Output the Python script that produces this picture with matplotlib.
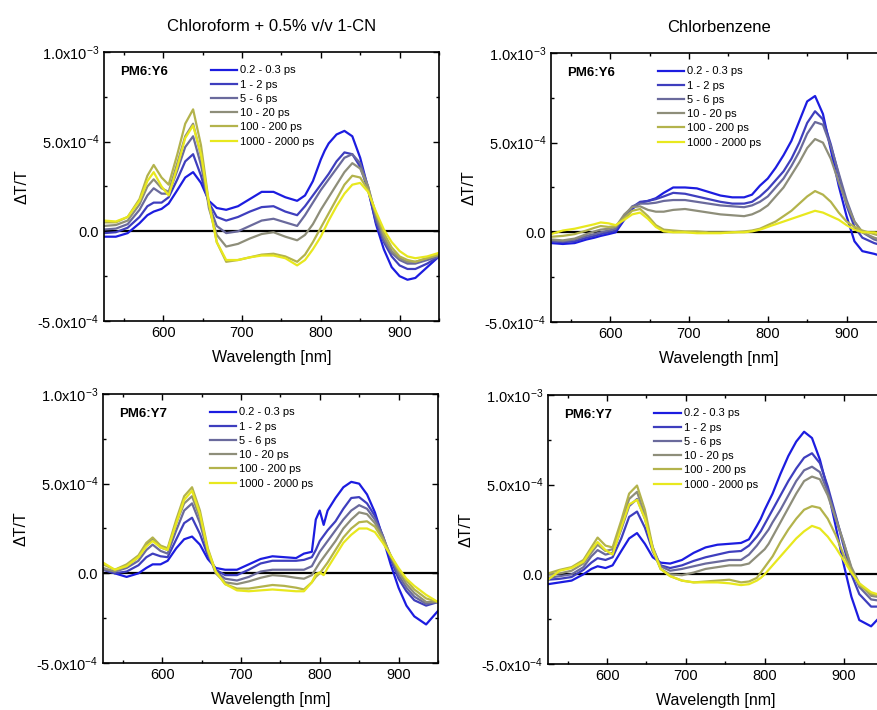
import matplotlib
matplotlib.use('Agg')
import matplotlib.pyplot as plt
import numpy as np
from matplotlib.ticker import MultipleLocator

plt.rcParams['font.family'] = ['Liberation Sans', 'DejaVu Sans']
plt.rcParams['mathtext.fontset'] = 'custom'
plt.rcParams['mathtext.rm'] = 'Liberation Sans'
plt.rcParams['mathtext.it'] = 'Liberation Sans:italic'

# wavelength grid [nm], values in units of 1e-4 (dT/T)
wl = [525, 540, 555, 570, 580, 588, 598, 607, 618, 628, 638, 648, 658, 668, 680, 695, 710, 725, 740, 755,
      770, 780, 790, 795, 800, 805, 810, 820, 830, 840, 850, 860, 870, 880, 890, 900, 910, 920, 935, 950]

labels = ['0.2 - 0.3 ps', '1 - 2 ps', '5 - 6 ps', '10 - 20 ps', '100 - 200 ps', '1000 - 2000 ps']
colors = ['#1c1ce0', '#3e3ebe', '#6a6a9c', '#8e8e7a', '#b3b34c', '#e8e81e']

# Chloroform + 1-CN, PM6:Y6
cf_y6 = [
    [-0.3, -0.3, -0.1, 0.45, 0.9, 1.1, 1.25, 1.55, 2.3, 3.0, 3.3, 2.7, 1.7, 1.3, 1.2, 1.4, 1.8, 2.2, 2.2, 1.9,
     1.7, 2.0, 2.8, 3.4, 4.0, 4.5, 4.9, 5.4, 5.6, 5.3, 4.1, 2.4, 0.4, -1.0, -2.0, -2.5, -2.7, -2.6, -2.0, -1.4],
    [-0.1, -0.05, 0.2, 0.8, 1.4, 1.6, 1.6, 1.9, 2.9, 3.9, 4.3, 3.1, 1.6, 0.8, 0.6, 0.8, 1.1, 1.35, 1.4, 1.1,
     0.9, 1.4, 2.0, 2.3, 2.6, 2.9, 3.2, 3.9, 4.4, 4.3, 3.6, 2.3, 0.5, -0.6, -1.4, -1.9, -2.1, -2.1, -1.8, -1.4],
    [0.1, 0.15, 0.4, 1.2, 2.0, 2.4, 2.1, 2.1, 3.4, 4.7, 5.3, 3.7, 1.5, 0.3, -0.1, 0.0, 0.3, 0.6, 0.7, 0.5,
     0.3, 0.9, 1.6, 1.95, 2.3, 2.6, 2.9, 3.5, 4.1, 4.3, 3.8, 2.5, 0.7, -0.5, -1.2, -1.6, -1.8, -1.8, -1.6, -1.4],
    [0.3, 0.35, 0.6, 1.5, 2.5, 2.9, 2.4, 2.2, 3.8, 5.3, 6.0, 4.2, 1.3, -0.2, -0.85, -0.7, -0.4, -0.15, -0.05, -0.3,
     -0.5, -0.2, 0.4, 0.8, 1.2, 1.55, 1.9, 2.6, 3.3, 3.8, 3.5, 2.5, 0.9, -0.3, -1.1, -1.5, -1.7, -1.7, -1.5, -1.3],
    [0.5, 0.5, 0.8, 1.8, 3.1, 3.7, 3.0, 2.6, 4.3, 6.0, 6.8, 4.8, 1.6, -0.6, -1.7, -1.6, -1.45, -1.3, -1.25, -1.4,
     -1.7, -1.3, -0.6, -0.2, 0.2, 0.6, 1.0, 1.8, 2.6, 3.1, 3.0, 2.3, 1.0, -0.1, -0.9, -1.4, -1.6, -1.7, -1.5, -1.3],
    [0.6, 0.55, 0.8, 1.7, 2.8, 3.3, 2.5, 2.0, 3.6, 5.2, 5.9, 4.3, 1.6, -0.6, -1.6, -1.6, -1.45, -1.35, -1.35, -1.5,
     -1.9, -1.6, -1.0, -0.65, -0.3, 0.15, 0.6, 1.4, 2.1, 2.6, 2.7, 2.2, 1.1, 0.1, -0.6, -1.1, -1.4, -1.5, -1.4, -1.2],
]

# Chlorobenzene, PM6:Y6
cb_y6 = [
    [-0.6, -0.65, -0.6, -0.4, -0.3, -0.2, -0.1, 0.0, 0.7, 1.3, 1.65, 1.75, 1.9, 2.2, 2.5, 2.5, 2.45, 2.25, 2.05, 1.95,
     1.95, 2.1, 2.6, 2.8, 3.0, 3.3, 3.6, 4.3, 5.1, 6.2, 7.3, 7.6, 6.6, 4.6, 2.6, 0.9, -0.5, -1.05, -1.2, -1.4],
    [-0.5, -0.55, -0.5, -0.3, -0.2, -0.1, 0.0, 0.1, 0.8, 1.4, 1.7, 1.75, 1.85, 2.0, 2.2, 2.15, 2.0, 1.85, 1.7, 1.6,
     1.6, 1.7, 2.0, 2.2, 2.4, 2.65, 2.9, 3.4, 4.1, 5.0, 6.1, 6.75, 6.3, 4.9, 3.2, 1.5, 0.3, -0.3, -0.6, -0.8],
    [-0.45, -0.5, -0.4, -0.2, -0.1, 0.0, 0.1, 0.2, 0.9, 1.45, 1.6, 1.6, 1.65, 1.75, 1.8, 1.8, 1.7, 1.6, 1.5, 1.45,
     1.4, 1.5, 1.7, 1.85, 2.0, 2.25, 2.5, 3.0, 3.7, 4.5, 5.5, 6.15, 6.0, 4.8, 3.3, 1.8, 0.6, 0.0, -0.4, -0.6],
    [-0.4, -0.45, -0.35, -0.1, 0.05, 0.15, 0.2, 0.3, 1.0, 1.4, 1.45, 1.25, 1.15, 1.15, 1.25, 1.3, 1.2, 1.1, 1.0, 0.95,
     0.9, 1.0, 1.2, 1.35, 1.5, 1.75, 2.0, 2.5, 3.2, 3.9, 4.7, 5.2, 5.0, 4.1, 2.8, 1.6, 0.6, 0.0, -0.3, -0.5],
    [-0.25, -0.2, -0.1, 0.1, 0.25, 0.35, 0.3, 0.35, 0.8, 1.2, 1.3, 0.9, 0.4, 0.15, 0.1, 0.05, 0.05, 0.0, 0.0, 0.0,
     0.05, 0.1, 0.2, 0.3, 0.4, 0.5, 0.6, 0.9, 1.2, 1.6, 2.0, 2.3, 2.1, 1.7, 1.1, 0.6, 0.3, 0.1, -0.1, -0.3],
    [-0.1, 0.1, 0.2, 0.35, 0.45, 0.55, 0.5, 0.4, 0.7, 1.0, 1.1, 0.75, 0.3, 0.05, 0.0, 0.0, -0.05, -0.05, -0.05, 0.0,
     0.0, 0.05, 0.15, 0.22, 0.3, 0.38, 0.45, 0.6, 0.75, 0.9, 1.05, 1.2, 1.1, 0.9, 0.7, 0.4, 0.15, 0.0, 0.0, -0.1],
]

# Chloroform + 1-CN, PM6:Y7
cf_y7 = [
    [0.25, 0.0, -0.2, 0.0, 0.3, 0.5, 0.5, 0.7, 1.4, 1.9, 2.05, 1.6, 0.8, 0.3, 0.2, 0.2, 0.5, 0.8, 0.95, 0.9,
     0.85, 1.1, 1.2, 3.0, 3.5, 2.7, 3.5, 4.2, 4.8, 5.1, 5.0, 4.4, 3.4, 2.0, 0.5, -0.8, -1.8, -2.4, -2.85, -2.1],
    [0.2, 0.0, 0.1, 0.45, 0.9, 1.1, 0.95, 0.9, 1.9, 2.8, 3.1, 2.2, 1.0, 0.2, -0.1, -0.1, 0.2, 0.55, 0.7, 0.7,
     0.7, 0.75, 0.9, 1.3, 1.8, 2.1, 2.4, 2.9, 3.6, 4.2, 4.25, 3.9, 3.2, 2.1, 0.8, -0.3, -1.0, -1.5, -1.8, -1.6],
    [0.2, 0.1, 0.3, 0.7, 1.3, 1.6, 1.25, 1.1, 2.4, 3.5, 3.9, 2.8, 1.2, 0.1, -0.3, -0.4, -0.2, 0.1, 0.2, 0.2,
     0.2, 0.2, 0.4, 0.8, 1.2, 1.5, 1.8, 2.4, 3.0, 3.5, 3.8, 3.6, 3.0, 2.1, 0.9, -0.1, -0.8, -1.3, -1.7, -1.6],
    [0.3, 0.1, 0.4, 0.9, 1.6, 1.9, 1.45, 1.3, 2.8, 3.9, 4.3, 3.1, 1.2, 0.0, -0.5, -0.6, -0.45, -0.25, -0.1, -0.15,
     -0.25, -0.3, -0.1, 0.25, 0.6, 0.9, 1.2, 1.8, 2.5, 3.0, 3.4, 3.3, 2.8, 2.0, 1.0, 0.1, -0.6, -1.1, -1.6, -1.6],
    [0.5, 0.2, 0.5, 1.0, 1.7, 2.0, 1.55, 1.4, 3.0, 4.3, 4.8, 3.5, 1.4, 0.1, -0.6, -0.85, -0.85, -0.75, -0.65, -0.7,
     -0.8, -0.9, -0.5, -0.2, 0.0, 0.3, 0.6, 1.3, 2.0, 2.5, 2.85, 2.9, 2.6, 1.9, 1.0, 0.2, -0.4, -0.9, -1.4, -1.6],
    [0.6, 0.2, 0.4, 0.9, 1.5, 1.8, 1.45, 1.3, 2.8, 4.1, 4.6, 3.3, 1.3, 0.1, -0.6, -0.95, -1.0, -0.95, -0.9, -0.95,
     -1.0, -1.0, -0.5, -0.05, 0.05, -0.1, 0.3, 1.0, 1.7, 2.15, 2.5, 2.5, 2.3, 1.7, 1.0, 0.3, -0.3, -0.7, -1.2, -1.6],
]

# Chlorobenzene, PM6:Y7
cb_y7 = [
    [-0.55, -0.45, -0.35, 0.0, 0.3, 0.45, 0.35, 0.5, 1.3, 2.0, 2.3, 1.7, 0.95, 0.65, 0.6, 0.8, 1.2, 1.5, 1.65, 1.7,
     1.75, 1.95, 2.7, 3.1, 3.6, 4.05, 4.5, 5.6, 6.6, 7.4, 7.95, 7.6, 6.4, 4.7, 2.7, 0.6, -1.25, -2.55, -2.9, -2.2],
    [-0.3, -0.25, -0.15, 0.25, 0.65, 0.9, 0.8, 0.95, 2.0, 3.2, 3.5, 2.6, 1.3, 0.5, 0.35, 0.5, 0.75, 0.95, 1.1, 1.25,
     1.3, 1.6, 2.1, 2.4, 2.8, 3.2, 3.6, 4.4, 5.2, 5.9, 6.5, 6.75, 6.2, 4.9, 3.3, 1.6, 0.0, -1.1, -1.8, -1.8],
    [-0.2, -0.1, 0.0, 0.4, 1.0, 1.35, 1.1, 1.2, 2.5, 3.8, 4.2, 3.1, 1.5, 0.45, 0.2, 0.3, 0.45, 0.6, 0.7, 0.8,
     0.8, 1.1, 1.6, 1.9, 2.2, 2.5, 2.9, 3.6, 4.4, 5.2, 5.8, 6.0, 5.7, 4.6, 3.2, 1.8, 0.3, -0.7, -1.4, -1.5],
    [0.0, 0.05, 0.2, 0.6, 1.2, 1.65, 1.3, 1.4, 2.8, 4.2, 4.6, 3.3, 1.3, 0.3, 0.0, -0.05, 0.1, 0.3, 0.4, 0.5,
     0.5, 0.6, 1.0, 1.2, 1.4, 1.7, 2.1, 2.9, 3.7, 4.5, 5.2, 5.45, 5.3, 4.4, 3.1, 1.8, 0.4, -0.5, -1.2, -1.3],
    [0.05, 0.25, 0.4, 0.8, 1.5, 2.05, 1.6, 1.5, 3.0, 4.5, 4.95, 3.6, 1.5, 0.3, -0.1, -0.35, -0.45, -0.4, -0.35, -0.3,
     -0.45, -0.4, -0.2, 0.1, 0.4, 0.7, 1.0, 1.8, 2.5, 3.1, 3.6, 3.8, 3.7, 3.1, 2.2, 1.1, 0.2, -0.6, -1.1, -1.2],
    [-0.3, 0.2, 0.35, 0.7, 1.35, 1.8, 1.35, 1.1, 2.6, 3.9, 4.15, 3.1, 1.4, 0.3, -0.1, -0.35, -0.45, -0.45, -0.45, -0.5,
     -0.6, -0.55, -0.35, -0.2, 0.0, 0.25, 0.5, 1.0, 1.5, 2.0, 2.4, 2.7, 2.55, 2.1, 1.5, 0.8, 0.1, -0.5, -1.0, -1.2],
]

ytick_vals = [-5e-4, 0, 5e-4, 1e-3]
ytick_labels = ['-5.0x10$^{-4}$', '0.0', '5.0x10$^{-4}$', '1.0x10$^{-3}$']


def draw(ax, data, tag, title=None):
    ax.axhline(0, color='k', lw=1.6, zorder=1)
    for vals, c, lab in zip(data, colors, labels):
        ax.plot(wl, np.array(vals) * 1e-4, color=c, lw=1.6, label=lab, zorder=2,
                solid_joinstyle='round')
    ax.set_xlim(525, 950)
    ax.set_ylim(-5e-4, 1e-3)
    ax.set_xticks([600, 700, 800, 900])
    ax.xaxis.set_minor_locator(MultipleLocator(50))
    ax.set_yticks(ytick_vals)
    ax.set_yticklabels(ytick_labels)
    ax.yaxis.set_minor_locator(MultipleLocator(2.5e-4))
    ax.tick_params(which='both', direction='in', top=True, right=True, labelsize=10.5, width=1)
    ax.tick_params(which='major', length=4)
    ax.tick_params(which='minor', length=2.5)
    for s in ax.spines.values():
        s.set_linewidth(1.2)
    ax.set_xlabel('Wavelength [nm]', fontsize=11.5, labelpad=7)
    ax.set_ylabel('ΔT/T', fontsize=11.5, labelpad=5)
    ax.text(0.048, 0.925, tag, transform=ax.transAxes, fontweight='bold', fontsize=9.5, va='center')
    ax.legend(loc='upper left', bbox_to_anchor=(0.318, 0.95), frameon=False, fontsize=8,
              handlelength=2.4, handletextpad=0.25, labelspacing=0.38, borderpad=0, borderaxespad=0)
    if title:
        ax.set_title(title, fontsize=12, pad=15)


fig = plt.figure(figsize=(8.78, 7.1), dpi=100)
ax1 = fig.add_axes([0.1185, 0.5479, 0.3815, 0.3789])
ax2 = fig.add_axes([0.6276, 0.5465, 0.3815, 0.3789])
ax3 = fig.add_axes([0.1173, 0.0662, 0.3815, 0.3789])
ax4 = fig.add_axes([0.6241, 0.0648, 0.3815, 0.3789])

draw(ax1, cf_y6, 'PM6:Y6', 'Chloroform + 0.5% v/v 1-CN')
draw(ax2, cb_y6, 'PM6:Y6', 'Chlorbenzene')
draw(ax3, cf_y7, 'PM6:Y7')
draw(ax4, cb_y7, 'PM6:Y7')

fig.savefig('out.png', dpi=100)
